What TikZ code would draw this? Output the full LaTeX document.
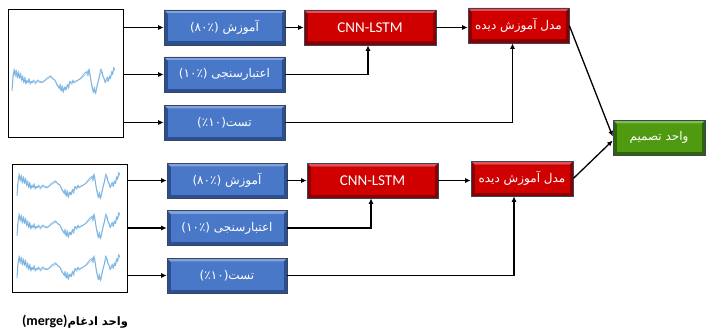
\documentclass[tikz,border=0pt]{standalone}
\usepackage{fontspec}
\setmainfont{Carlito}
\newfontfamily\fa[Script=Arabic]{DejaVu Sans}
\TeXXeTstate=1
\usetikzlibrary{arrows.meta}
\definecolor{bmain}{HTML}{4A78C9}
\definecolor{bdark}{HTML}{2C4F8F}
\definecolor{blight}{HTML}{7FA3E0}
\definecolor{rmain}{HTML}{D00000}
\definecolor{rdark}{HTML}{8A0000}
\definecolor{rlight}{HTML}{E85050}
\definecolor{gmain}{HTML}{4F9A10}
\definecolor{gdark}{HTML}{2F6408}
\definecolor{glight}{HTML}{80C040}
\definecolor{edge}{HTML}{3A4660}
\definecolor{wavec}{HTML}{8CC0E8}
\definecolor{wavedk}{HTML}{4F95D0}
\newcommand\sigwave[2]{%
  \draw[wavesty,shift={(#1,#2)},xscale=1.07,yscale=1.4] plot coordinates {(0,8) (1,-2) (2,-8) (3,-4) (4,-7) (5,-2) (6,-6) (7,-1) (8,-5) (9,0) (10,-3) (11,2) (12,-2) (13,3) (14,0) (15,2) (16,-1) (17,3) (18,1) (19,2) (20,0) (22,2) (24,0) (26,1) (28,2) (30,1) (32,-1) (34,-2) (36,-3) (38,-1) (40,0) (42,3) (44,6) (45,3) (46,8) (47,4) (48,9) (49,5) (50,7) (52,3) (53,6) (54,1) (56,3) (57,0) (58,2) (60,1) (62,0) (64,-1) (66,-3) (68,-5) (70,-6) (71,-3) (72,-8) (73,-4) (74,2) (75,6) (76,9) (77,5) (78,10) (79,7) (80,3) (81,0) (82,-4) (83,-8) (84,-6) (85,-3) (86,-1) (87,2) (88,0) (89,-2) (90,1) (91,-3) (92,-1) (93,-6) (94,-4) (95,-9) (96,-7)};
  \draw[wavesty2,shift={(#1,#2)},xscale=1.07,yscale=1.4] plot coordinates {(0,6) (1,-4) (2,-6) (3,-2) (4,-5) (5,-1) (6,-4) (7,-2) (8,-3) (9,1) (10,-1) (11,1) (12,0) (13,2) (14,1) (16,1) (18,2) (20,1) (22,3) (24,1) (26,2) (28,1) (32,0) (36,-2) (40,0) (42,4) (44,5) (45,7) (46,6) (47,8) (48,7) (50,5) (51,7) (52,4) (54,3) (55,1) (58,1) (62,0) (66,-2) (70,-5) (71,-7) (72,-6) (74,1) (75,4) (76,7) (77,9) (78,8) (80,2) (82,-3) (84,-6) (85,-2) (86,-1) (88,1) (90,0) (92,-2) (94,-5) (96,-8)};
}
\tikzset{
  bevel/.style n args={3}{draw=edge,line width=0.6pt,fill=#2,
    path picture={
      \fill[#3] (path picture bounding box.north west) -- (path picture bounding box.north east)
        -- ([shift={(-3.5pt,-3.5pt)}]path picture bounding box.north east)
        -- ([shift={(3.5pt,-3.5pt)}]path picture bounding box.north west) -- cycle;
      \fill[#1] ([shift={(3.5pt,-3.5pt)}]path picture bounding box.north west) rectangle
        ([shift={(-3.5pt,3.5pt)}]path picture bounding box.south east);
    }},
  box/.style={minimum height=35pt,inner sep=0pt,text=white,font=\fa\fontsize{12}{14}\selectfont},
  bluebox/.style={box,minimum width=121pt,bevel={bmain}{bdark}{blight}},
  redbox/.style={box,bevel={rmain}{rdark}{rlight}},
  greenbox/.style={box,minimum width=92pt,bevel={gmain}{gdark}{glight}},
  sigbox/.style={draw=black,line width=0.8pt,minimum width=115pt,minimum height=128pt,inner sep=0pt},
  arr/.style={draw=black,line width=1.3pt,-{Latex[length=5.5pt,width=5pt]}},
  wavesty/.style={draw=wavec,line width=1pt,line join=round},
  wavesty2/.style={draw=wavedk,line width=0.4pt,line join=round,opacity=0.6},
}
\begin{document}
\begin{tikzpicture}[x=1pt,y=-1pt]
\useasboundingbox[fill=white] (0,0) rectangle (706,329);
% top branch
\node[sigbox] (sig1) at (65.5,73) {};
\sigwave{12}{80}
\node[bluebox] (a1) at (224.5,27.5) {\beginR آموزش (۸۰٪)\endR};
\node[bluebox] (b1) at (224.5,74.5) {\beginR اعتبارسنجی (۱۰٪)\endR};
\node[bluebox] (c1) at (224.5,122.5) {\beginR تست(۱۰٪)\endR};
\node[redbox,minimum width=132pt,font=\fontsize{15}{17}\selectfont] (cnn1) at (370,27.5) {CNN-LSTM};
\node[redbox,minimum width=101pt] (m1) at (518.5,25.5) {\beginR مدل آموزش دیده\endR};
% bottom branch
\node[sigbox] (sig2) at (69.5,228) {};
\sigwave{17}{185}
\sigwave{17}{225}
\sigwave{17}{267}
\node[bluebox,minimum width=120pt] (a2) at (227,180.5) {\beginR آموزش (۸۰٪)\endR};
\node[bluebox,minimum width=120pt] (b2) at (227,228) {\beginR اعتبارسنجی (۱۰٪)\endR};
\node[bluebox,minimum width=120pt] (c2) at (227,275.5) {\beginR تست(۱۰٪)\endR};
\node[redbox,minimum width=131pt,font=\fontsize{15}{17}\selectfont] (cnn2) at (372.5,180.5) {CNN-LSTM};
\node[redbox,minimum width=102pt] (m2) at (522,178.5) {\beginR مدل آموزش دیده\endR};
% decision
\node[greenbox] (dec) at (659,137.5) {\beginR واحد تصمیم\endR};
% label
\node[inner sep=0pt] (lbl) at (75,322) {{\fontsize{14}{16}\selectfont\bfseries(merge)}{\fa\fontsize{11.5}{13}\selectfont\bfseries\beginR واحد ادغام\endR}};
% connectors top
\draw[arr] (sig1.east |- a1.west) -- (a1.west);
\draw[arr] (sig1.east |- b1.west) -- (b1.west);
\draw[arr] (sig1.east |- c1.west) -- (c1.west);
\draw[arr] (a1.east) -- (a1.east -| cnn1.west);
\draw[arr] (b1.east) -| ([xshift=-2pt]cnn1.south);
\draw[arr] (cnn1.east) -- (cnn1.east -| m1.west);
\draw[arr] (c1.east) -| ([xshift=-6pt]m1.south);
\draw[arr] (m1.east) -- ([yshift=1pt]dec.west);
% connectors bottom
\draw[arr] (sig2.east |- a2.west) -- (a2.west);
\draw[arr] (sig2.east |- b2.west) -- (b2.west);
\draw[arr] (sig2.east |- c2.west) -- (c2.west);
\draw[arr] (a2.east) -- (a2.east -| cnn2.west);
\draw[arr] (b2.east) -| ([xshift=-1.5pt]cnn2.south);
\draw[arr] (cnn2.east) -- (cnn2.east -| m2.west);
\draw[arr] (c2.east) -| ([xshift=-8pt]m2.south);
\draw[arr] (m2.east) -- ([yshift=-3pt]dec.west);
\end{tikzpicture}
\end{document}
